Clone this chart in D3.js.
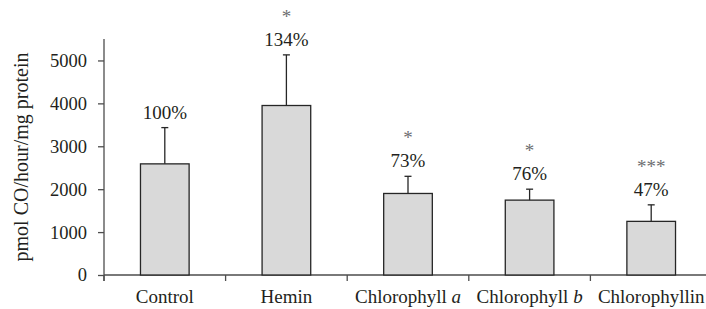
<!DOCTYPE html>
<html>
<head>
<meta charset="utf-8">
<script src="https://cdn.jsdelivr.net/npm/d3@7"></script>
<style>
  body { margin: 0; background: #fff; }
  svg { display: block; overflow: hidden; font-family: "Liberation Serif", "Times New Roman", serif; }
  text { font-family: "Liberation Serif", "Times New Roman", serif; fill: #231f20; }
</style>
</head>
<body>
<div id="chart"></div>
<script>
// data
var categories = ["Control", "Hemin", "Chlorophyll a", "Chlorophyll b", "Chlorophyllin"];
var means = [2590, 3950, 1900, 1745, 1250];
var errors = [845, 1180, 400, 255, 385];
var percents = ["100%", "134%", "73%", "76%", "47%"];
var stars = ["", "*", "*", "*", "***"];
var yTicks = [0, 1000, 2000, 3000, 4000, 5000];

// set the dimensions and margins of the graph
var margin = {top: 39, right: 0, bottom: 34, left: 104},
    width = 608,
    height = 309 - margin.top - margin.bottom;

var x = d3.scaleBand().domain(categories).range([0, width])
    .paddingInner(0.6).paddingOuter(0.3);
var y = d3.scaleLinear().domain([0, 5500]).range([height, 0]);

var svg = d3.select("#chart").append("svg")
    .attr("width", 706)
    .attr("height", 309)
    .append("g")
    .attr("transform", "translate(" + margin.left + "," + margin.top + ")");

var axisColor = "#4d4d4d";
var serif = "'Liberation Serif', 'Times New Roman', serif";

// y axis
var yAxis = svg.append("g")
  .call(d3.axisLeft(y).tickValues(yTicks).tickFormat(d3.format("d"))
    .tickSize(6).tickSizeOuter(0).tickPadding(11));
yAxis.attr("font-family", serif);
yAxis.select(".domain").remove();
yAxis.selectAll("line").attr("stroke", axisColor).attr("stroke-width", 1.3);
yAxis.selectAll("text")
  .style("font-family", serif)
  .style("font-size", "18.5px")
  .attr("fill", "#231f20");
svg.append("line")
  .attr("x1", 0).attr("x2", 0)
  .attr("y1", 0).attr("y2", height + 6)
  .attr("stroke", axisColor).attr("stroke-width", 1.3);

// x axis line and separator ticks
svg.append("line")
  .attr("x1", 0).attr("x2", width)
  .attr("y1", height).attr("y2", height)
  .attr("stroke", axisColor).attr("stroke-width", 1.3);
svg.selectAll(".sep")
  .data(categories)
  .enter().append("line")
  .attr("x1", d => x(d) - x.paddingOuter() * x.step())
  .attr("x2", d => x(d) - x.paddingOuter() * x.step())
  .attr("y1", height).attr("y2", height + 6)
  .attr("stroke", axisColor).attr("stroke-width", 1.3);

// category labels (trailing letter in italics)
var cats = svg.selectAll(".cat")
  .data(categories)
  .enter().append("text")
  .attr("x", d => x(d) + x.bandwidth() / 2)
  .attr("y", height + 28)
  .attr("text-anchor", "middle")
  .style("font-family", serif)
  .style("font-size", "19px");
cats.each(function(d) {
  var m = d.match(/^(.*) ([ab])$/);
  var t = d3.select(this);
  if (m) {
    t.append("tspan").text(m[1] + " ");
    t.append("tspan").style("font-style", "italic").text(m[2]);
  } else {
    t.text(d);
  }
});

// y axis label
svg.append("text")
  .attr("text-anchor", "middle")
  .attr("transform", "rotate(-90)")
  .attr("x", -(157 - margin.top))
  .attr("y", 28 - margin.left)
  .style("font-family", serif)
  .style("font-size", "20px")
  .text("pmol CO/hour/mg protein");

// bars
var idx = d3.range(categories.length);
svg.selectAll(".bar")
  .data(idx)
  .enter().append("rect")
  .attr("x", i => x(categories[i]))
  .attr("width", x.bandwidth())
  .attr("y", i => y(means[i]))
  .attr("height", i => height - y(means[i]))
  .attr("fill", "#d9d9d9")
  .attr("stroke", "#262626")
  .attr("stroke-width", 1.3);

// error bars (upper only)
var eb = svg.selectAll(".err").data(idx).enter().append("g");
eb.append("line")
  .attr("x1", i => x(categories[i]) + x.bandwidth() / 2)
  .attr("x2", i => x(categories[i]) + x.bandwidth() / 2)
  .attr("y1", i => y(means[i]))
  .attr("y2", i => y(means[i] + errors[i]))
  .attr("stroke", "#262626").attr("stroke-width", 1.3);
eb.append("line")
  .attr("x1", i => x(categories[i]) + x.bandwidth() / 2 - 3.5)
  .attr("x2", i => x(categories[i]) + x.bandwidth() / 2 + 3.5)
  .attr("y1", i => y(means[i] + errors[i]))
  .attr("y2", i => y(means[i] + errors[i]))
  .attr("stroke", "#262626").attr("stroke-width", 1.3);

// percent labels
svg.selectAll(".pct").data(idx).enter().append("text")
  .attr("x", i => x(categories[i]) + x.bandwidth() / 2)
  .attr("y", i => y(means[i] + errors[i]) - 9)
  .attr("text-anchor", "middle")
  .style("font-family", serif)
  .style("font-size", "19px")
  .text(i => percents[i]);

// significance stars
svg.selectAll(".star").data(idx).enter().append("text")
  .attr("x", i => x(categories[i]) + x.bandwidth() / 2)
  .attr("y", i => y(means[i] + errors[i]) - 9 - 23)
  .attr("text-anchor", "middle")
  .style("font-family", serif)
  .style("font-size", "19px")
  .style("fill", "#6d6e71")
  .text(i => stars[i]);
</script>
</body>
</html>
